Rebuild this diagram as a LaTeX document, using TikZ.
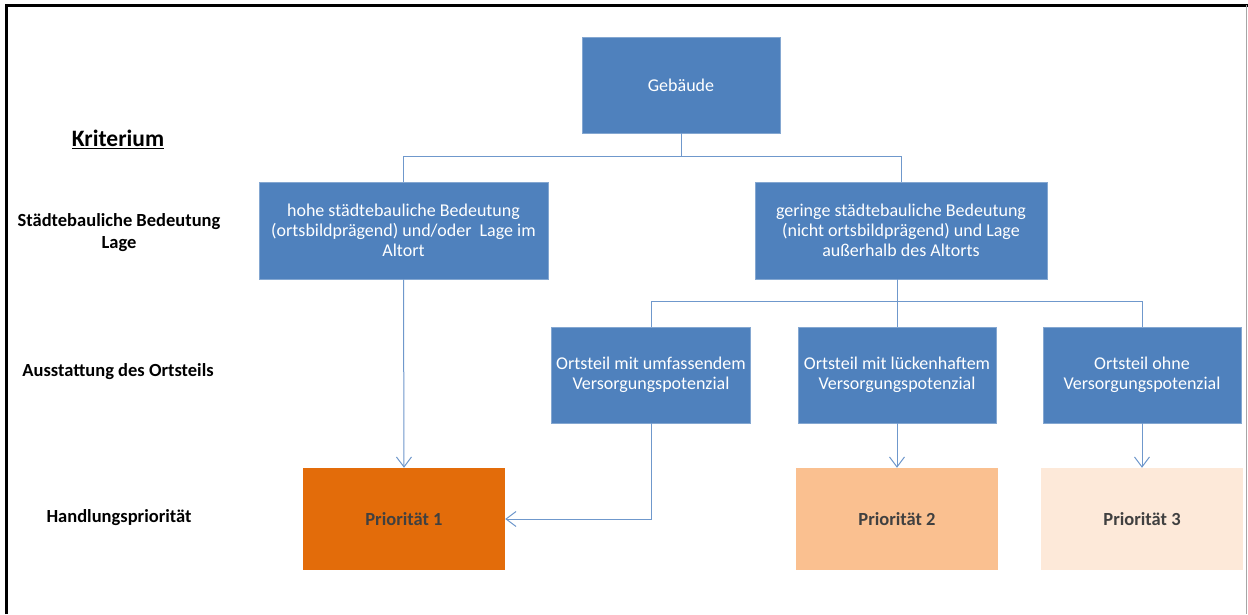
\documentclass[tikz,border=0pt]{standalone}
\usepackage{fontspec}
\setmainfont{Carlito}
\usetikzlibrary{arrows.meta}
\definecolor{boxblue}{HTML}{4F81BD}
\definecolor{lineblue}{HTML}{6F98CC}
\definecolor{prio1}{HTML}{E36C0A}
\definecolor{prio2}{HTML}{FAC090}
\definecolor{prio3}{HTML}{FDE9D9}
\definecolor{prtext}{HTML}{404040}
\begin{document}
\begin{tikzpicture}[x=1pt,y=-1pt,
  bluebox/.style={fill=boxblue,draw=boxblue!70!white,line width=0.6pt,inner sep=0pt,text=white,align=center,font=\fontsize{18}{20}\selectfont},
  priobox/.style={inner sep=0pt,text=prtext,font=\fontsize{18.5}{20}\selectfont\bfseries,minimum width=202pt,minimum height=102pt},
  conn/.style={draw=lineblue,line width=1pt},
  arr/.style={conn,-{Straight Barb[length=10pt,width=15pt,line width=1pt]}},
  crit/.style={font=\fontsize{18.5}{22}\selectfont\bfseries,align=center,text=black}]
\useasboundingbox (0,0) rectangle (1248,614);
\fill[white] (0,0) rectangle (1248,614);
% frame
\draw[black,line width=3pt] (6.5,614) -- (6.5,5.5) -- (1248,5.5);
\draw[black!35,line width=1pt] (1246,5) -- (1246,614);
% nodes
\node[bluebox,minimum width=198pt,minimum height=96pt] (geb) at (681,85) {Gebäude};
\node[bluebox,minimum width=289pt,minimum height=97pt] (hohe) at (403.5,230.5) {hohe städtebauliche Bedeutung\\(ortsbildprägend) und/oder\ \ Lage im\\Altort};
\node[bluebox,minimum width=292pt,minimum height=97pt] (ger) at (901,230.5) {geringe städtebauliche Bedeutung\\(nicht ortsbildprägend) und Lage\\außerhalb des Altorts};
\node[bluebox,minimum width=199pt,minimum height=96pt] (umf) at (651,375) {Ortsteil mit umfassendem\\Versorgungspotenzial};
\node[bluebox,minimum width=198pt,minimum height=96pt] (luek) at (897,375) {Ortsteil mit lückenhaftem\\Versorgungspotenzial};
\node[bluebox,minimum width=198pt,minimum height=96pt] (ohne) at (1142,375) {Ortsteil ohne\\Versorgungspotenzial};
\node[priobox,fill=prio1] (p1) at (404,519) {Priorität 1};
\node[priobox,fill=prio2] (p2) at (897,519) {Priorität 2};
\node[priobox,fill=prio3] (p3) at (1142,519) {Priorität 3};
% criteria labels
\node[font=\fontsize{23.5}{26}\selectfont\bfseries] (krit) at (118,139) {\underline{Kriterium}};
\node[crit] (staedt) at (119,233) {Städtebauliche Bedeutung\\Lage};
\node[crit] (ausst) at (118,372) {Ausstattung des Ortsteils};
\node[crit] (handl) at (119,518) {Handlungspriorität};
% connectors
\coordinate (j1) at (681,156);
\draw[conn] (geb.south) -- (j1);
\draw[conn] (hohe.north) -- (hohe.north |- j1) -- (ger.north |- j1) -- (ger.north);
\coordinate (j2) at (897,301);
\draw[conn] (ger.south -| j2) -- (j2);
\draw[conn] (umf.north) -- (umf.north |- j2) -- (ohne.north |- j2) -- (ohne.north);
\draw[conn] (luek.north |- j2) -- (luek.north);
\draw[arr] (hohe.south) -- (p1.north);
\draw[arr] (umf.south) -- (umf.south |- p1.east) -- (p1.east);
\draw[arr] (luek.south) -- (p2.north);
\draw[arr] (ohne.south) -- (p3.north);
\end{tikzpicture}
\end{document}
